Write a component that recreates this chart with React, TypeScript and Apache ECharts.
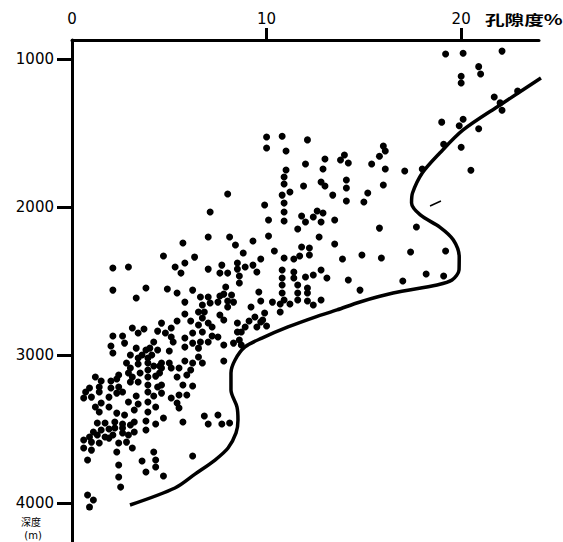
import React, { useEffect, useRef } from "react";
import * as echarts from "echarts";

// x ticks / labels (porosity %), y ticks / labels (depth m)
const xLabelValues = [0, 10, 20];
const xTickValues = [10, 20];
const yTickValues = [1000, 2000, 3000, 4000];

// scatter points: [porosity %, depth m]
const topRight: [number, number][] = [
  [19.2, 965], [20.1, 960], [22.1, 945], [20.9, 1050], [21.0, 1100], [20.0, 1115],
  [20.0, 1160], [21.7, 1255], [22.0, 1295], [22.1, 1345], [22.9, 1215], [19.0, 1425],
  [20.1, 1405], [19.9, 1450], [20.9, 1470], [19.1, 1575], [20.0, 1595], [20.5, 1750],
];

const midRight: [number, number][] = [
  [10.0, 1525], [10.8, 1520], [12.1, 1545], [10.0, 1600], [11.0, 1620], [16.0, 1587],
  [16.1, 1620], [15.8, 1655], [14.0, 1647], [13.8, 1681], [14.2, 1701], [15.4, 1708],
  [13.0, 1674], [12.9, 1742], [12.0, 1708], [11.0, 1749], [10.9, 1796], [10.9, 1843],
  [16.1, 1742], [17.1, 1755], [18.0, 1742], [11.9, 1857], [12.8, 1830], [13.0, 1857],
  [14.1, 1816], [14.1, 1870], [16.0, 1850], [10.8, 1918], [11.2, 1897], [13.4, 1918],
  [15.2, 1904], [15.0, 1965], [14.1, 1958], [9.9, 1985], [10.9, 1972], [10.9, 2032],
  [10.9, 2093], [10.1, 2086], [11.8, 2059], [12.0, 2100], [12.4, 2066], [12.6, 2026],
  [12.9, 2039], [12.8, 2100], [13.5, 2086], [11.6, 2147], [10.1, 2195], [9.3, 2228],
  [12.7, 2201], [13.5, 2249], [15.8, 2141], [17.7, 2134], [17.4, 2303], [19.2, 2296],
  [10.4, 2296], [11.8, 2269], [12.2, 2276], [12.2, 2323], [11.7, 2330], [11.4, 2350],
  [10.9, 2343], [9.7, 2350], [13.9, 2350], [14.9, 2323], [15.9, 2343], [12.8, 2424],
  [13.1, 2478], [14.2, 2492], [14.8, 2560], [17.0, 2499], [18.2, 2451], [19.1, 2465],
  [12.8, 2627],
];

const upperLeft: [number, number][] = [
  [8.0, 1911], [7.1, 2032], [7.0, 2201], [8.1, 2201], [8.4, 2255], [5.7, 2242],
  [8.8, 2309], [4.7, 2330], [6.3, 2337],
];

const coreLeft: [number, number][] = [
  [2.1, 2411], [2.9, 2404], [5.3, 2404], [5.8, 2377], [5.6, 2445], [2.1, 2560],
  [3.8, 2546], [3.3, 2613], [4.9, 2553], [5.4, 2580], [6.2, 2560], [5.8, 2641],
  [5.8, 2722], [5.4, 2769], [6.1, 2769], [4.6, 2783], [5.1, 2816], [3.1, 2816],
  [3.7, 2823], [4.4, 2837], [3.4, 2850], [4.8, 2850], [6.2, 2850], [2.1, 2870],
  [2.6, 2870], [4.2, 2911], [5.1, 2877], [5.2, 2911], [5.8, 2884], [6.2, 2918],
  [2.0, 2938], [2.7, 2918], [3.3, 2952], [3.8, 2965], [4.0, 2952], [3.6, 2999],
  [4.1, 2999], [4.4, 2965], [5.0, 2972], [5.8, 2945], [2.1, 2985], [3.0, 2999],
  [3.4, 3019], [3.9, 3019], [3.9, 3053], [4.6, 3053], [5.0, 3053], [5.8, 3039],
  [6.2, 3053], [2.8, 3053], [3.4, 3059], [4.2, 3073], [4.5, 3073], [3.0, 3086],
  [3.9, 3100], [4.6, 3086], [5.1, 3086], [5.5, 3086], [6.1, 3100], [2.4, 3134],
  [2.9, 3120], [3.1, 3147], [3.5, 3120], [3.9, 3147], [4.3, 3141], [4.5, 3120],
  [5.4, 3147], [5.9, 3134], [1.2, 3147], [1.5, 3174], [2.0, 3174], [2.3, 3161],
  [0.9, 3222], [1.4, 3215], [2.0, 3222], [2.4, 3215], [3.0, 3181], [3.4, 3181],
  [3.9, 3201], [4.4, 3215], [4.6, 3201], [5.7, 3201], [6.2, 3208],
];

const coreMid: [number, number][] = [
  [7.0, 2418], [7.7, 2391], [7.6, 2445], [8.0, 2445], [8.5, 2377], [8.5, 2418],
  [8.6, 2465], [8.6, 2512], [8.9, 2404], [9.3, 2391], [9.5, 2438], [10.8, 2424],
  [10.8, 2478], [10.8, 2526], [11.4, 2438], [11.4, 2478], [12.0, 2472], [12.4, 2458],
  [11.6, 2526], [12.1, 2546], [10.8, 2580], [11.6, 2580], [12.1, 2580], [10.9, 2627],
  [11.2, 2654], [11.6, 2627], [12.1, 2634], [12.4, 2661], [10.7, 2654], [10.3, 2641],
  [10.7, 2708], [9.7, 2634], [9.6, 2573], [9.2, 2674], [7.9, 2539], [7.8, 2587],
  [8.2, 2593], [8.3, 2641], [8.0, 2634], [8.0, 2674], [7.6, 2600], [7.5, 2641],
  [7.0, 2607], [6.6, 2607], [7.1, 2647], [6.7, 2661], [6.5, 2708], [6.8, 2708],
  [7.6, 2728], [7.8, 2762], [6.7, 2748], [7.0, 2782], [6.5, 2796], [7.2, 2809],
  [6.7, 2843], [7.2, 2870], [7.5, 2877], [6.6, 2911], [7.0, 2911], [6.5, 2952],
  [7.8, 2931], [8.3, 2918], [8.6, 2897], [8.7, 2931], [8.5, 2843], [8.5, 2782],
  [8.9, 2809], [8.7, 2843], [9.1, 2769], [9.4, 2742], [9.7, 2776], [9.5, 2809],
  [9.9, 2715], [9.8, 2762], [10.0, 2803], [6.5, 3012], [6.7, 3053], [7.8, 3039],
];

const deepLeft: [number, number][] = [
  [0.7, 3249], [1.0, 3283], [0.6, 3289], [1.4, 3249], [1.9, 3283], [2.3, 3256],
  [2.6, 3249], [3.3, 3276], [3.9, 3249], [4.2, 3276], [4.6, 3256], [2.9, 3316],
  [3.4, 3330], [3.9, 3316], [1.5, 3323], [1.2, 3350], [1.9, 3350], [1.4, 3384],
  [2.3, 3391], [2.7, 3404], [3.2, 3370], [3.9, 3384], [4.3, 3350], [5.1, 3289],
  [5.5, 3269], [5.9, 3269], [5.4, 3323], [5.5, 3357], [4.7, 3424], [3.8, 3445],
  [4.3, 3465], [5.7, 3451], [1.3, 3458], [1.7, 3458], [2.2, 3451], [2.6, 3465],
  [3.0, 3472], [3.2, 3451], [1.1, 3519], [1.5, 3505], [1.9, 3499], [2.2, 3492],
  [2.6, 3492], [3.2, 3519], [3.8, 3505], [0.9, 3553], [1.3, 3539], [1.7, 3553],
  [2.1, 3539], [2.6, 3526], [2.9, 3539], [0.6, 3573], [1.0, 3587], [1.4, 3593],
  [1.9, 3560], [2.4, 3593], [2.8, 3587], [0.6, 3627], [1.0, 3641], [2.3, 3654],
  [3.1, 3627], [0.8, 3708], [2.4, 3742], [3.6, 3715], [4.2, 3654], [4.3, 3708],
  [3.8, 3789], [4.3, 3755], [2.4, 3823], [2.5, 3891], [4.7, 3816], [6.2, 3681],
  [0.8, 3945], [1.1, 3978], [0.9, 4026],
];

const deepMid: [number, number][] = [
  [6.8, 3411], [7.5, 3404], [7.0, 3465], [7.7, 3465], [8.1, 3458],
];

// envelope curve: [porosity %, depth m]
const envelope: [number, number][] = [
  [24.1, 1127], [22.0, 1309], [20.1, 1478], [18.9, 1634], [18.0, 1769], [17.5, 1904],
  [17.45, 1971], [17.9, 2052], [18.9, 2134], [19.6, 2221], [19.9, 2336], [19.89, 2424],
  [19.53, 2492], [18.76, 2525], [16.5, 2580], [14.8, 2640], [13.62, 2694], [12.49, 2742],
  [11.1, 2809], [9.76, 2884], [8.89, 2944], [8.38, 3032], [8.17, 3120], [8.17, 3235],
  [8.48, 3350], [8.53, 3438], [8.43, 3525], [8.02, 3627], [7.35, 3708], [6.32, 3803],
  [5.29, 3897], [2.98, 4012],
];

// small stray stroke near the bend
const strayMark: [number, number][] = [[18.4, 1992], [18.96, 1958]];

const FONT = "'DejaVu Sans', 'Liberation Sans', sans-serif";
const CJK = "'Noto Sans CJK SC', 'Noto Sans CJK JP', sans-serif";

export default function App() {
  const ref = useRef<HTMLDivElement>(null);

  useEffect(() => {
    if (!ref.current) return;
    const chart = echarts.init(ref.current, undefined, { renderer: "svg" });
    const points = [
      ...topRight, ...midRight, ...upperLeft, ...coreLeft, ...coreMid, ...deepLeft, ...deepMid,
    ];
    chart.setOption({
      animation: false,
      backgroundColor: "#ffffff",
      grid: { left: 72, top: 40, width: 467, height: 502, containLabel: false },
      xAxis: {
        type: "value",
        position: "top",
        min: 0,
        max: 24,
        splitLine: { show: false },
        axisLine: { show: true, onZero: false, lineStyle: { color: "#000", width: 3 } },
        axisTick: {
          show: true,
          customValues: xTickValues,
          length: 12,
          lineStyle: { color: "#000", width: 3 },
        },
        axisLabel: {
          customValues: xLabelValues,
          margin: 14,
          color: "#000",
          fontSize: 15,
          fontFamily: FONT,
          formatter: (v: number) => String(v),
        },
      },
      yAxis: {
        type: "value",
        inverse: true,
        min: 870,
        max: 4262,
        splitLine: { show: false },
        axisLine: { show: true, onZero: false, lineStyle: { color: "#000", width: 3 } },
        axisTick: {
          show: true,
          customValues: yTickValues,
          length: 15,
          lineStyle: { color: "#000", width: 3 },
        },
        axisLabel: {
          customValues: yTickValues,
          margin: 18,
          color: "#000",
          fontSize: 15,
          lineHeight: 14,
          fontFamily: FONT,
          formatter: (v: number) => String(v),
        },
      },
      graphic: [
        {
          type: "text",
          x: 485,
          y: 19,
          scaleX: 1.4,
          style: {
            text: "孔隙度%",
            fontSize: 14,
            fontFamily: CJK,
            fontWeight: "bold",
            fill: "#000",
            verticalAlign: "middle",
            align: "left",
          },
        },
        {
          type: "text",
          x: 31,
          y: 521,
          style: {
            text: "深度",
            fontSize: 10,
            lineHeight: 10,
            fontFamily: CJK,
            fill: "#000",
            align: "center",
            verticalAlign: "middle",
          },
        },
        {
          type: "text",
          x: 33,
          y: 535,
          style: {
            text: "(m)",
            fontSize: 10,
            lineHeight: 10,
            fontFamily: FONT,
            fill: "#000",
            align: "center",
            verticalAlign: "middle",
          },
        },
      ],
      series: [
        {
          type: "scatter",
          data: points,
          symbol: "circle",
          symbolSize: 7,
          clip: false,
          itemStyle: { color: "#000", opacity: 1 },
        },
        {
          type: "line",
          data: envelope,
          smooth: 0.3,
          showSymbol: false,
          symbol: "none",
          clip: false,
          lineStyle: { color: "#000", width: 3.5 },
        },
        {
          type: "line",
          data: strayMark,
          showSymbol: false,
          symbol: "none",
          clip: false,
          lineStyle: { color: "#000", width: 1.5 },
        },
      ],
    });
    return () => chart.dispose();
  }, []);

  return (
    <div
      ref={ref}
      style={{ position: "absolute", left: 0, top: 0, width: 563, height: 542, background: "#fff" }}
    />
  );
}
